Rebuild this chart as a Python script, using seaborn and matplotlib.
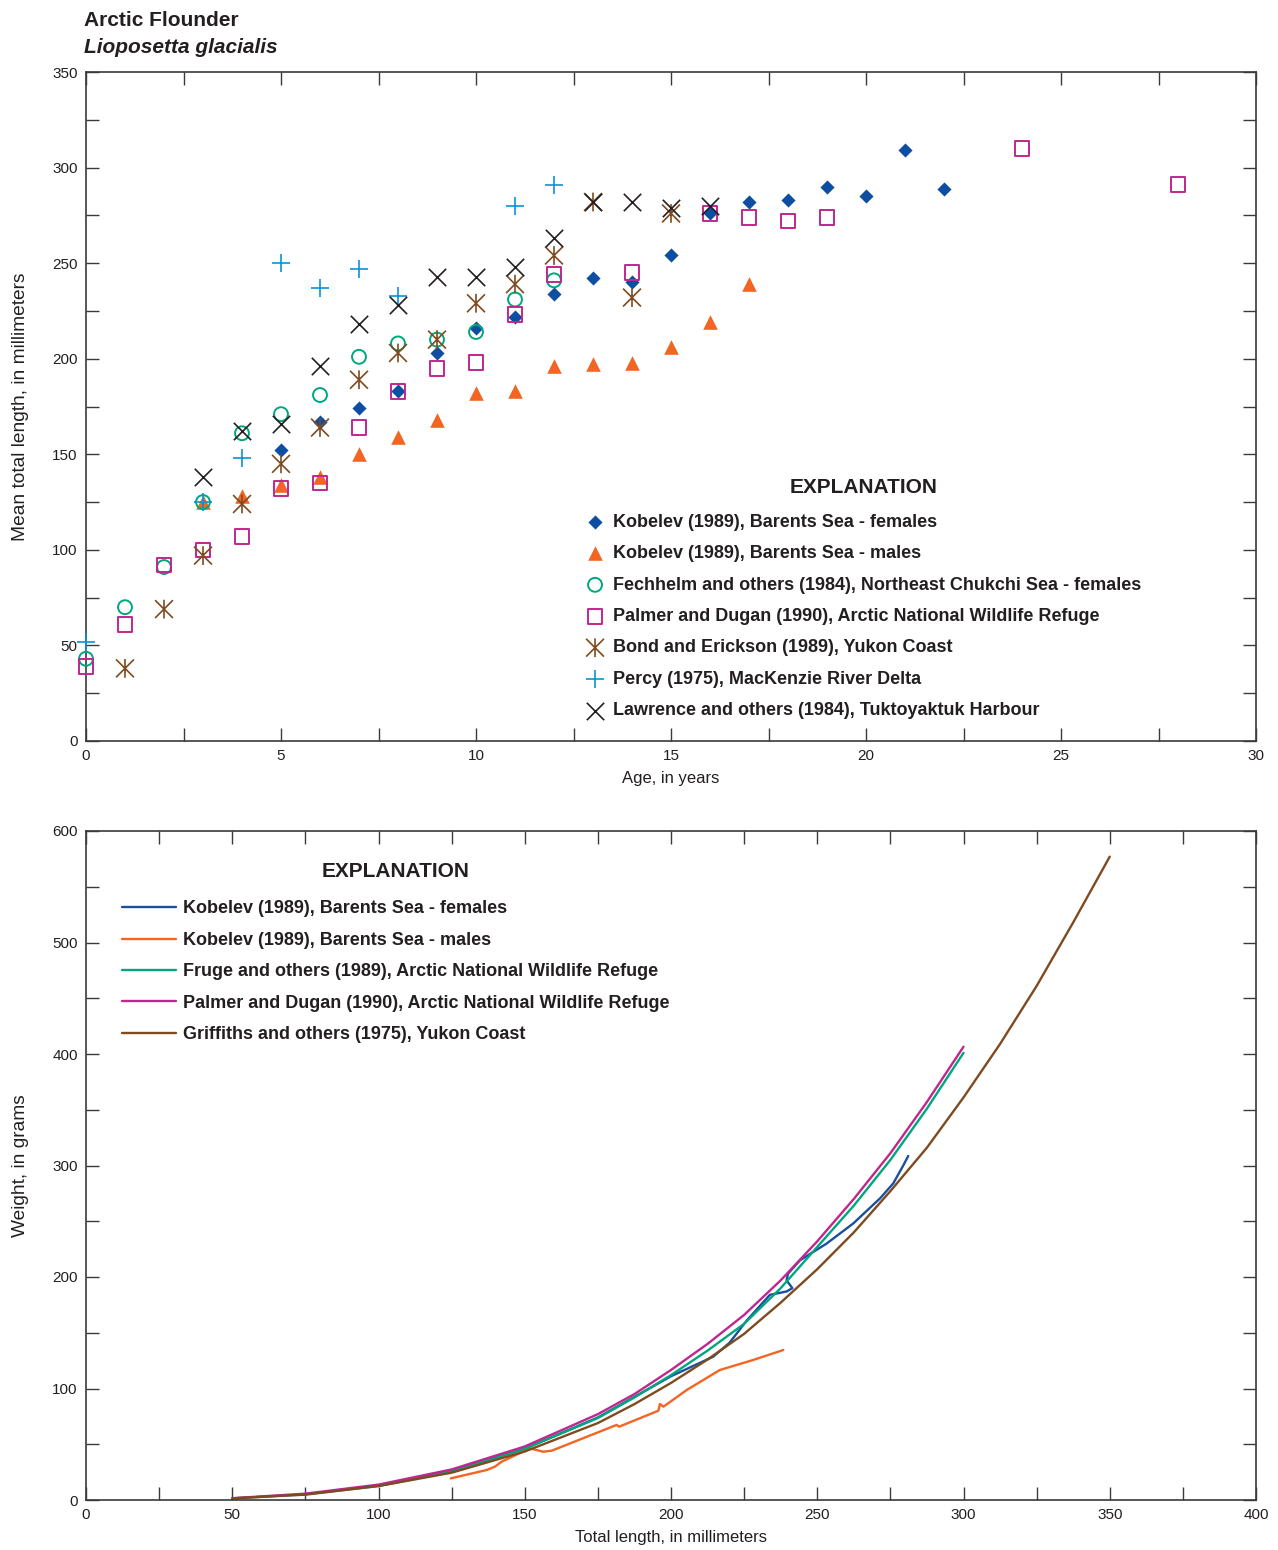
import numpy as np
import pandas as pd
import matplotlib
matplotlib.use("Agg")
import matplotlib.pyplot as plt
from matplotlib.path import Path
from matplotlib.ticker import MultipleLocator
import seaborn as sns

# ---------------- top panel: age vs mean total length ----------------
kob_f_age = [5, 6, 7, 8, 9, 10, 11, 12, 13, 14, 15, 16, 17, 18, 19, 20, 21, 22]
kob_f_len = [152, 167, 174, 183, 203, 216, 222, 234, 242, 240, 254, 276, 282, 283, 290, 285, 309, 289]
kob_m_age = [3, 4, 5, 6, 7, 8, 9, 10, 11, 12, 13, 14, 15, 16, 17]
kob_m_len = [125, 128, 134, 138, 150, 159, 168, 182, 183, 196, 197, 198, 206, 219, 239]
fech_age = [0, 1, 2, 3, 4, 5, 6, 7, 8, 9, 10, 11, 12]
fech_len = [43, 70, 91, 125, 161, 171, 181, 201, 208, 210, 214, 231, 241]
palmer_age = [0, 1, 2, 3, 4, 5, 6, 7, 8, 9, 10, 11, 12, 14, 16, 17, 18, 19, 24, 28]
palmer_len = [39, 61, 92, 100, 107, 132, 135, 164, 183, 195, 198, 223, 244, 245, 276, 274, 272, 274, 310, 291]
bond_age = [1, 2, 3, 4, 5, 6, 7, 8, 9, 10, 11, 12, 13, 14, 15]
bond_len = [38, 69, 97, 124, 145, 164, 189, 203, 210, 229, 239, 254, 282, 232, 276]
percy_age = [0, 3, 4, 5, 6, 7, 8, 11, 12]
percy_len = [52, 125, 148, 250, 237, 247, 233, 280, 291]
law_age = [3, 4, 5, 6, 7, 8, 9, 10, 11, 12, 13, 14, 15, 16]
law_len = [138, 162, 166, 196, 218, 228, 243, 243, 248, 263, 282, 282, 279, 280]

top_labels = [
    "Kobelev (1989), Barents Sea - females",
    "Kobelev (1989), Barents Sea - males",
    "Fechhelm and others (1984), Northeast Chukchi Sea - females",
    "Palmer and Dugan (1990), Arctic National Wildlife Refuge",
    "Bond and Erickson (1989), Yukon Coast",
    "Percy (1975), MacKenzie River Delta",
    "Lawrence and others (1984), Tuktoyaktuk Harbour",
]

# ---------------- bottom panel: length vs weight ----------------
kobf_tl = [100, 125, 150, 175, 200, 214.4, 220, 225.9, 233.8, 239.5, 241.5, 239.5, 240,
           244.1, 253.2, 262.3, 271.5, 276, 279.4, 281.1]
kobf_wt = [12.8, 26, 46, 74, 111, 128.5, 141, 161, 184, 187, 190, 197, 203,
           215, 230, 248, 270.6, 284, 300, 308.5]
kobm_tl = [124.7, 137, 139.8, 142.1, 151.8, 156.3, 159.2, 181.4, 182.3, 195.7, 196.2, 197.4,
           205.4, 216.7, 228.1, 238.4]
kobm_wt = [19.4, 26.9, 29.9, 34.4, 46.3, 43.3, 44.2, 67.3, 65.8, 80.1, 86.1, 83.7,
           98.7, 116.6, 125.6, 134.5]
fruge_tl = [50, 75, 100, 125, 150, 175, 187.5, 200, 212.5, 225, 237.5, 250, 262.5, 275, 287.5, 300]
fruge_wt = [1.4, 5.1, 12.6, 25.5, 46, 73.5, 92, 112, 134, 158, 190, 227, 264, 305, 351, 401]
palm_tl = [50, 75, 100, 125, 150, 175, 187.5, 200, 212.5, 225, 237.5, 250, 262.5, 275, 287.5, 300]
palm_wt = [1.6, 5.7, 13.8, 27.4, 48, 77, 95, 116.6, 140, 166, 197, 232, 270, 311, 357, 406.5]
grif_tl = [50, 75, 100, 125, 150, 175, 187.5, 200, 212.5, 225, 237.5, 250, 262.5, 275,
           287.5, 300, 312.5, 325, 337.5, 350]
grif_wt = [1.5, 4.8, 12.5, 24.5, 43.5, 69, 86, 105, 126, 149, 177, 207, 240, 277,
           316, 361, 409, 461, 518, 577]

bottom_labels = [
    "Kobelev (1989), Barents Sea - females",
    "Kobelev (1989), Barents Sea - males",
    "Fruge and others (1989), Arctic National Wildlife Refuge",
    "Palmer and Dugan (1990), Arctic National Wildlife Refuge",
    "Griffiths and others (1975), Yukon Coast",
]

# ---------------- colours ----------------
C_BLUE = "#0D4EA2"
C_ORANGE = "#F26522"
C_GREEN = "#00A77D"
C_MAGENTA = "#C0268F"
C_BROWN = "#7F4A1F"
C_LBLUE = "#0A93D8"
C_BLACK = "#231F20"
C_TEXT = "#231F20"

sns.set_style("ticks")
FONT = ["Liberation Sans Narrow", "Liberation Sans", "DejaVu Sans"]
plt.rcParams["font.family"] = FONT
plt.rcParams["text.color"] = C_TEXT
plt.rcParams["axes.labelcolor"] = C_TEXT

W, H = 1278, 1550
fig = plt.figure(figsize=(W / 100, H / 100), dpi=100)

def fx(px):
    return px / W

def fy(py):
    return 1 - py / H

ax1 = fig.add_axes([fx(86), fy(741), fx(1256) - fx(86), fy(72) - fy(741)])
ax2 = fig.add_axes([fx(86), fy(1500), fx(1256) - fx(86), fy(831) - fy(1500)])

# asterisk marker: X plus vertical bar
star_path = Path(
    [(-1, -1), (1, 1), (-1, 1), (1, -1), (0, -1.05), (0, 1.05)],
    [Path.MOVETO, Path.LINETO, Path.MOVETO, Path.LINETO, Path.MOVETO, Path.LINETO],
)

common = dict(ax=ax1, clip_on=False, zorder=3, legend=False)
sns.scatterplot(x=kob_f_age, y=kob_f_len, marker="D", s=7.2 ** 2, color=C_BLUE,
                linewidth=0, label=top_labels[0], **common)
sns.scatterplot(x=kob_m_age, y=kob_m_len, marker="^", s=10.5 ** 2, color=C_ORANGE,
                linewidth=0, label=top_labels[1], **common)
sns.scatterplot(x=fech_age, y=fech_len, marker="o", s=10 ** 2, color=C_GREEN,
                facecolor="none", edgecolor=C_GREEN, linewidth=1.4, label=top_labels[2], **common)
sns.scatterplot(x=palmer_age, y=palmer_len, marker="s", s=10.5 ** 2, color=C_MAGENTA,
                facecolor="none", edgecolor=C_MAGENTA, linewidth=1.4, label=top_labels[3], **common)
sns.scatterplot(x=bond_age, y=bond_len, marker=star_path, s=13.5 ** 2, color=C_BROWN,
                facecolor="none", edgecolor=C_BROWN, linewidth=1.2, label=top_labels[4], **common)
sns.scatterplot(x=percy_age, y=percy_len, marker="+", s=13 ** 2, color=C_LBLUE,
                linewidth=1.2, label=top_labels[5], **common)
sns.scatterplot(x=law_age, y=law_len, marker="x", s=12.5 ** 2, color=C_BLACK,
                linewidth=1.2, label=top_labels[6], **common)

line_kw = dict(ax=ax2, sort=False, estimator=None, linewidth=1.7, legend=False)
sns.lineplot(x=kobf_tl, y=kobf_wt, color="#1B4F9F", label=bottom_labels[0], **line_kw)
sns.lineplot(x=kobm_tl, y=kobm_wt, color=C_ORANGE, label=bottom_labels[1], **line_kw)
sns.lineplot(x=fruge_tl, y=fruge_wt, color=C_GREEN, label=bottom_labels[2], **line_kw)
sns.lineplot(x=palm_tl, y=palm_wt, color=C_MAGENTA, label=bottom_labels[3], **line_kw)
sns.lineplot(x=grif_tl, y=grif_wt, color=C_BROWN, label=bottom_labels[4], **line_kw)

# ---------------- axes styling ----------------
ax1.set_xlim(0, 30)
ax1.set_ylim(0, 350)
ax1.xaxis.set_major_locator(MultipleLocator(5))
ax1.xaxis.set_minor_locator(MultipleLocator(2.5))
ax1.yaxis.set_major_locator(MultipleLocator(50))
ax1.yaxis.set_minor_locator(MultipleLocator(25))

ax2.set_xlim(0, 400)
ax2.set_ylim(0, 600)
ax2.xaxis.set_major_locator(MultipleLocator(50))
ax2.xaxis.set_minor_locator(MultipleLocator(25))
ax2.yaxis.set_major_locator(MultipleLocator(100))
ax2.yaxis.set_minor_locator(MultipleLocator(50))

for ax in (ax1, ax2):
    for sp in ax.spines.values():
        sp.set_visible(True)
        sp.set_linewidth(1.2)
        sp.set_color("#3a3a3a")
    ax.tick_params(which="both", direction="in", length=9.5, width=1.0, color="#3a3a3a",
                   top=True, right=True, labelsize=11, labelcolor=C_TEXT, pad=6)
    ax.grid(False)

ax1.set_xlabel("Age, in years", fontsize=12)
ax1.set_ylabel("Mean total length, in millimeters", fontsize=13.8)
ax2.set_xlabel("Total length, in millimeters", fontsize=12)
ax2.set_ylabel("Weight, in grams", fontsize=13.8)
for ax in (ax1, ax2):
    ax.yaxis.set_label_coords((29 - 86) / 1170, 0.5)
    ax.xaxis.set_label_coords(0.5, (741 - 771) / 669)

# ---------------- titles ----------------
fig.text(fx(84), fy(26), "Arctic Flounder", fontsize=15, fontweight="bold", va="baseline", ha="left")
fig.text(fx(84), fy(53), "Lioposetta glacialis", fontsize=15, fontweight="bold", style="italic",
         va="baseline", ha="left")

# ---------------- legends ----------------
leg1 = ax1.legend(loc="upper left", bbox_to_anchor=(fx(586), fy(478)), bbox_transform=fig.transFigure,
                  frameon=False, title="EXPLANATION", borderpad=0, borderaxespad=0,
                  handlelength=1.0, handletextpad=0.5, labelspacing=0.8,
                  prop={"weight": "bold", "size": 13, "family": FONT},
                  title_fontproperties={"weight": "bold", "size": 15, "family": FONT})
leg1._legend_box.sep = 12

leg2 = ax2.legend(loc="upper left", bbox_to_anchor=(fx(122), fy(862)), bbox_transform=fig.transFigure,
                  frameon=False, title="EXPLANATION", borderpad=0, borderaxespad=0,
                  handlelength=3.0, handletextpad=0.4, labelspacing=0.8,
                  prop={"weight": "bold", "size": 13, "family": FONT},
                  title_fontproperties={"weight": "bold", "size": 15, "family": FONT})
leg2._legend_box.sep = 14

fig.savefig("out.png", dpi=100)
